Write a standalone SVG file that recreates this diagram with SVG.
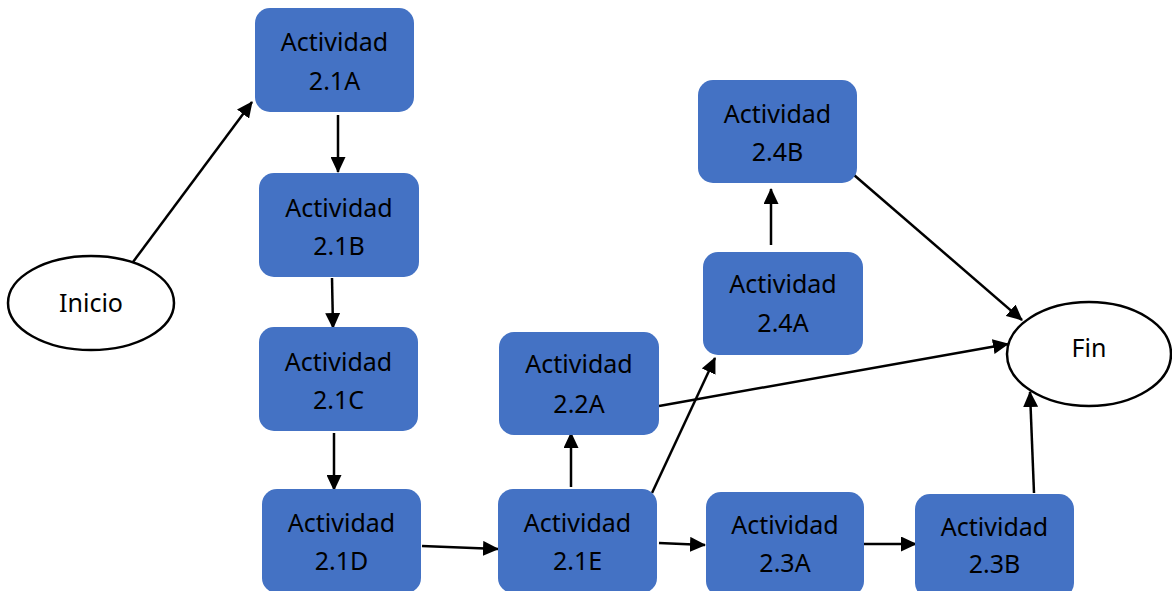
<svg xmlns="http://www.w3.org/2000/svg" width="1172" height="591" viewBox="0 0 1172 591">
<style>
.box{fill:#4472C4;stroke:none}
.ell{fill:#fff;stroke:#000;stroke-width:2.5}
.t{font-family:"Noto Sans","Liberation Sans",sans-serif;font-size:25px;fill:#000;text-anchor:middle}
.c{stroke:#000;stroke-width:2.5;fill:none;marker-end:url(#ah)}
</style>
<defs>
<marker id="ah" markerUnits="userSpaceOnUse" markerWidth="16" markerHeight="15" refX="15" refY="7.5" orient="auto">
<path d="M0,0 L16,7.5 L0,15 z" fill="#000"/>
</marker>
</defs>
<rect width="1172" height="591" fill="#fff"/>
<g id="connectors">
<line class="c" x1="133" y1="262" x2="252" y2="102"/>
<line class="c" x1="338" y1="115" x2="338" y2="172"/>
<line class="c" x1="332" y1="278" x2="333" y2="328"/>
<line class="c" x1="334" y1="433" x2="334" y2="490"/>
<line class="c" x1="422" y1="546" x2="498" y2="549"/>
<line class="c" x1="571" y1="487" x2="571" y2="433"/>
<line class="c" x1="652" y1="493" x2="715" y2="358"/>
<line class="c" x1="659" y1="406" x2="1008" y2="344"/>
<line class="c" x1="659" y1="543" x2="705" y2="545"/>
<line class="c" x1="864" y1="544" x2="916" y2="544"/>
<line class="c" x1="1034" y1="493" x2="1030" y2="392"/>
<line class="c" x1="771" y1="245" x2="771" y2="189"/>
<line class="c" x1="854" y1="175" x2="1022" y2="320"/>
</g>
<g id="inicio"><ellipse class="ell" cx="91" cy="303" rx="83" ry="47"/><text class="t" x="91" y="312">Inicio</text></g>
<g id="fin"><ellipse class="ell" cx="1089" cy="354" rx="82" ry="52"/><text class="t" x="1089" y="357">Fin</text></g>
<g id="a21A"><rect class="box" x="255" y="8" width="159" height="104" rx="15"/><text class="t" x="334.5" y="51">Actividad</text><text class="t" x="334.5" y="90">2.1A</text></g>
<g id="a21B"><rect class="box" x="259" y="173" width="160" height="104" rx="15"/><text class="t" x="339" y="217">Actividad</text><text class="t" x="339" y="255">2.1B</text></g>
<g id="a21C"><rect class="box" x="259" y="327" width="159" height="104" rx="15"/><text class="t" x="338.5" y="371">Actividad</text><text class="t" x="338.5" y="409">2.1C</text></g>
<g id="a21D"><rect class="box" x="262" y="489" width="159" height="104" rx="15"/><text class="t" x="341.5" y="532">Actividad</text><text class="t" x="341.5" y="570">2.1D</text></g>
<g id="a21E"><rect class="box" x="498" y="489" width="159" height="104" rx="15"/><text class="t" x="577.5" y="532">Actividad</text><text class="t" x="577.5" y="570">2.1E</text></g>
<g id="a22A"><rect class="box" x="499" y="332" width="160" height="103" rx="15"/><text class="t" x="579" y="373">Actividad</text><text class="t" x="579" y="413">2.2A</text></g>
<g id="a23A"><rect class="box" x="706" y="492" width="158" height="104" rx="15"/><text class="t" x="785" y="534">Actividad</text><text class="t" x="785" y="572">2.3A</text></g>
<g id="a23B"><rect class="box" x="915" y="494" width="159" height="104" rx="15"/><text class="t" x="994.5" y="536">Actividad</text><text class="t" x="994.5" y="573">2.3B</text></g>
<g id="a24A"><rect class="box" x="703" y="252" width="160" height="103" rx="15"/><text class="t" x="783" y="293">Actividad</text><text class="t" x="783" y="332">2.4A</text></g>
<g id="a24B"><rect class="box" x="698" y="80" width="159" height="103" rx="15"/><text class="t" x="777.5" y="123">Actividad</text><text class="t" x="777.5" y="161">2.4B</text></g>
</svg>
